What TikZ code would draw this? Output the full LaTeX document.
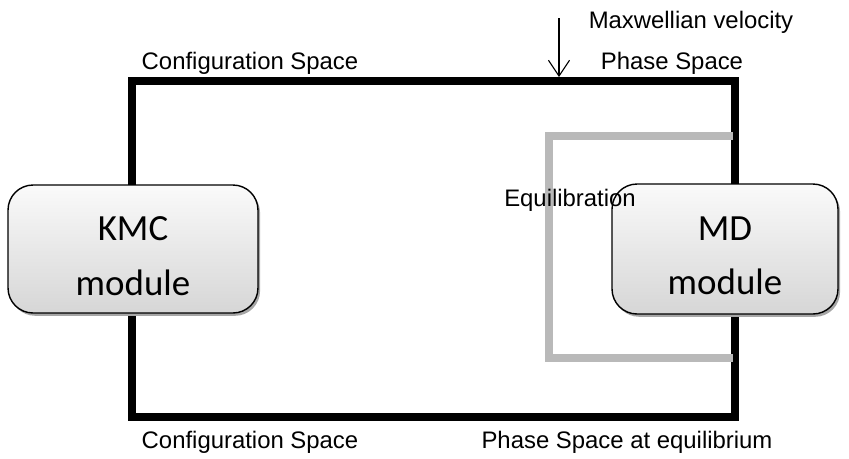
\documentclass[tikz,border=0pt]{standalone}
\usepackage{fontspec}
\setmainfont{Liberation Sans}
\newfontfamily\boxfont{Carlito}
\usetikzlibrary{shadows,arrows.meta}
\begin{document}
\begin{tikzpicture}[x=0.02cm,y=-0.02cm,
  module/.style={draw=black, line width=0.8pt, rounded corners=0.5cm,
    top color=gray!4, bottom color=gray!32,
    drop shadow={shadow xshift=1.2pt, shadow yshift=-1.6pt, fill=gray!70, opacity=1}},
  modtext/.style={align=center, inner sep=0pt,
    font=\boxfont\fontsize{21}{31}\selectfont},
  lbl/.style={font=\fontsize{13.6}{16}\selectfont, inner sep=0pt},
  frame/.style={line width=4.6pt, line join=miter, draw=black},
  eqframe/.style={line width=4.4pt, line join=miter, draw=gray!55}]
\useasboundingbox (0,0) rectangle (849,458);

% outer loop between configuration space and phase space
\draw[frame] (132,81) rectangle (735,417);

% equilibration loop inside the MD side
\draw[eqframe] (733,136) -- (549,136) -- (549,358) -- (733,358);

% modules
\node[module, minimum width=5cm, minimum height=2.56cm] (kmc) at (133,249) {};
\node[module, minimum width=4.52cm, minimum height=2.6cm] (md) at (725,249) {};
\node[modtext] (kmctext) at ([yshift=-0.14cm]kmc.center) {KMC\\module};
\node[modtext] (mdtext) at ([yshift=-0.14cm]md.center) {MD\\module};

% labels
\node[lbl] (cstop) at (250,63) {Configuration Space};
\node[lbl] (pstop) at (672,63) {Phase Space};
\node[lbl] (maxw) at (691,22) {Maxwellian velocity};
\node[lbl] (equil) at (570,200) {Equilibration};
\node[lbl] (csbot) at (250,442) {Configuration Space};
\node[lbl] (psbot) at (627,442) {Phase Space at equilibrium};

% velocity input arrow
\coordinate (vin) at (559,18);
\coordinate (vtip) at (559,77);
\draw[line width=0.6pt, -{Straight Barb[length=9pt,width=12pt,line width=0.6pt]}] (vin) -- (vtip);
\end{tikzpicture}
\end{document}
